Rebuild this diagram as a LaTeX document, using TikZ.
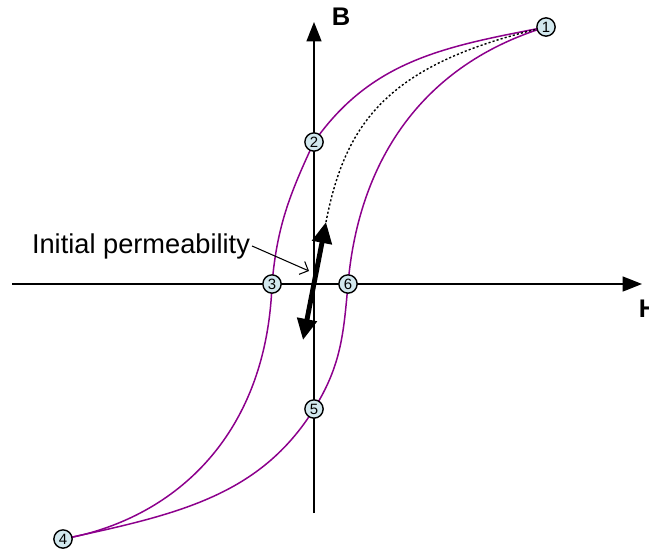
\documentclass[tikz,border=0pt]{standalone}
\usepackage{fontspec}
\setmainfont{Liberation Sans}
\usetikzlibrary{arrows.meta, positioning, backgrounds}

\definecolor{loopcol}{RGB}{140,0,140}
\definecolor{ptfill}{RGB}{210,232,238}

\begin{document}
\begin{tikzpicture}[
    x=0.02cm, y=-0.02cm,
    pt/.style={circle, draw=black, fill=ptfill, line width=0.8pt, minimum size=10.4pt, inner sep=0pt, font=\fontsize{8.5}{9}\selectfont},
    axis/.style={line width=0.85pt, -{Triangle[length=11pt, width=8.5pt]}},
    axlabel/.style={font=\fontsize{14.5}{16}\selectfont\bfseries},
    loop/.style={draw=loopcol, line width=0.85pt},
    slope/.style={line width=2.8pt, {Triangle[length=12pt, width=11pt]}-{Triangle[length=12pt, width=11pt]}},
    arrow/.style={line width=0.6pt, -{Straight Barb[length=4pt, width=8pt]}}
]
\useasboundingbox (0,0) rectangle (649,551);

% Points on the loop
\node[pt] (p1) at (546,27) {1};
\node[pt] (p2) at (314,142) {2};
\node[pt] (p3) at (272,284) {3};
\node[pt] (p4) at (63,539) {4};
\node[pt] (p5) at (314,409) {5};
\node[pt] (p6) at (348,284) {6};

% Axes
\coordinate (hleft) at (12,284);
\coordinate (hright) at (642,284);
\coordinate (vbot) at (314,513);
\coordinate (vtop) at (314,22);
\node[axlabel] (blbl) at (341,17) {B};
\node[axlabel] (hlbl) at (648,309) {H};

% Initial permeability
\coordinate (mutop) at (326,222);
\coordinate (mubot) at (303,340);
\coordinate (mupoint) at (309,271);
\node[font=\fontsize{15.5}{17}\selectfont, inner sep=1pt] (initlbl) at (141,246) {Initial permeability};

\begin{scope}[on background layer]
\draw[axis] (hleft) -- (hright);
\draw[axis] (vbot) -- (vtop);

\draw[loop] (p1.center) to[out=191, in=55] (p2.center)
    to[out=245, in=85] (p3.center)
    to[out=268, in=10, out looseness=1.2, in looseness=0.85] (p4.center);
\draw[loop] (p4.center) to[out=12, in=238, out looseness=1.08, in looseness=0.92] (p5.center)
    to[out=58, in=265] (p6.center)
    to[out=85, in=197] (p1.center);

\draw[line width=0.8pt, dash pattern=on 1.2pt off 1.2pt] (mutop) to[out=79, in=193, out looseness=0.9, in looseness=1.4] (p1.center);
\end{scope}

\draw[slope] (mubot) -- (mutop);
\draw[arrow] (initlbl.east) -- (mupoint);

\end{tikzpicture}
\end{document}
